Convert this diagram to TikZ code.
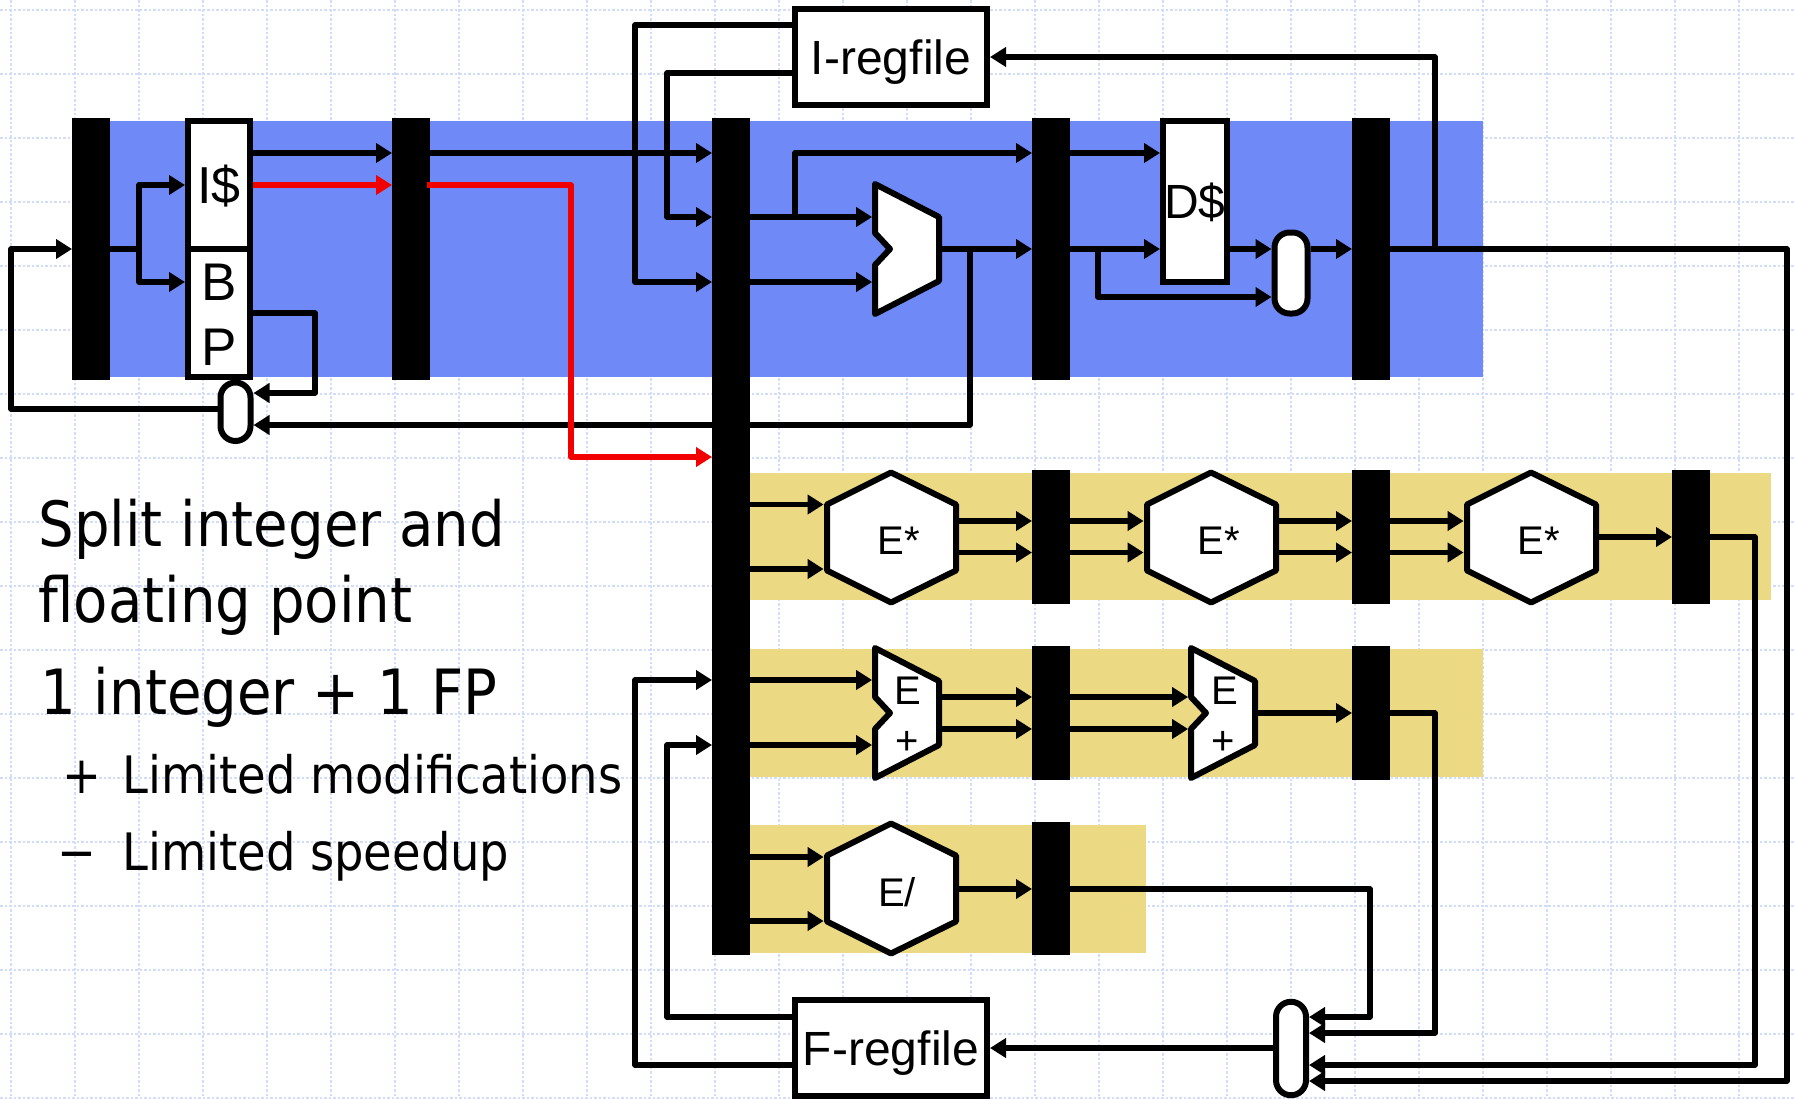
\documentclass[tikz,border=0pt]{standalone}
\usepackage{fontspec}
\setmainfont{Liberation Sans}
\newfontfamily\slideFont{DejaVu Sans Condensed}
\usepackage{xcolor}
\usetikzlibrary{arrows.meta}
\definecolor{gridBlue}{HTML}{D2DDF9}
\definecolor{bandBlue}{HTML}{6F8AF6}
\definecolor{bandYellow}{HTML}{ECD983}

\begin{document}
\begin{tikzpicture}[x=0.5pt, y=-0.5pt,
    wire/.style={line width=2.75pt, line join=round},
    flow/.style={wire, -{Triangle[length=8pt, width=9.5pt]}},
    redFlow/.style={flow, color=red!95!black},
    latch/.style={fill=black, inner sep=0pt, outer sep=0pt, minimum width=19pt},
    unitBox/.style={draw, fill=white, line width=3pt, inner sep=0pt, text depth=0pt, font=\fontsize{24}{30}\selectfont},
    unitLine/.style={draw, fill=white, line width=3pt, line join=round},
    unitText/.style={inner sep=0pt, text depth=0pt, font=\fontsize{20}{24}\selectfont},
    bigText/.style={inner sep=0pt, text depth=0pt, font=\fontsize{26.5}{30}\selectfont},
    pill/.style={draw, fill=white, line width=3pt, inner sep=0pt, rounded corners=7.5pt, minimum width=15pt},
    slideBig/.style={inner sep=0pt, anchor=base west, font=\slideFont\fontsize{31.2}{38}\selectfont},
    slideSmall/.style={inner sep=0pt, anchor=base west, font=\slideFont\fontsize{25.8}{30}\selectfont}]

\useasboundingbox (0,0) rectangle (1794,1098);

% Dotted slide grid
\foreach \gridX in {11,75,...,1794}
    \draw[gridBlue, line width=1.25pt, dash pattern=on 1.25pt off 1pt] (\gridX,0) -- (\gridX,1098);
\foreach \gridY in {10,74,...,1098}
    \draw[gridBlue, line width=1.25pt, dash pattern=on 1.25pt off 1pt] (0,\gridY) -- (1794,\gridY);

% Pipeline bands
\fill[bandBlue] (72,121) rectangle (1483,377);
\fill[bandYellow] (750,473) rectangle (1771,600);
\fill[bandYellow] (750,649) rectangle (1483,777);
\fill[bandYellow] (750,825) rectangle (1146,953);

% Latches
\node[latch, minimum height=131pt] (latchF) at (91,249) {};
\node[latch, minimum height=131pt] (latchD) at (411,249) {};
\node[latch, minimum height=418.5pt] (latchR) at (731,536.5) {};
\node[latch, minimum height=131pt] (latchX) at (1051,249) {};
\node[latch, minimum height=131pt] (latchM) at (1371,249) {};
\node[latch, minimum height=67pt] (latchMulA) at (1051,537) {};
\node[latch, minimum height=67pt] (latchMulB) at (1371,537) {};
\node[latch, minimum height=67pt] (latchMulC) at (1691,537) {};
\node[latch, minimum height=67pt] (latchAddA) at (1051,713) {};
\node[latch, minimum height=67pt] (latchAddB) at (1371,713) {};
\node[latch, minimum height=66.5pt] (latchDiv) at (1051,888.5) {};

% Boxes
\node[unitBox, minimum width=31pt, minimum height=64.25pt, font=\fontsize{26}{30}\selectfont] (icache) at (219,184.75) {I\$};
\node[unitBox, minimum width=31pt, minimum height=63.75pt] (bpred) at (219,312.75) {};
\node[bigText] (textB) at (219,282) {B};
\node[bigText] (textP) at (219,347) {P};
\node[unitBox, minimum width=32pt, minimum height=80.5pt] (dcache) at (1195,201) {D\$};
\node[unitBox, minimum width=96pt, minimum height=48pt, text depth=-2pt] (iregfile) at (891,57) {I-regfile};
\node[unitBox, minimum width=96pt, minimum height=48pt, text depth=-2pt] (fregfile) at (891,1048) {F-regfile};

% Selectors
\node[pill, minimum height=29.25pt] (pillFetch) at (235.5,411.75) {};
\node[pill, minimum height=40.5pt, minimum width=16.5pt] (pillMem) at (1291,273) {};
\node[pill, minimum height=46.75pt] (pillBack) at (1291,1048.5) {};

% Execute units
\foreach \hexName/\hexX/\hexY/\hexShift/\hexText in {hexA/891/537.5/8/{E*}, hexB/1211/537.5/8/{E*}, hexC/1531/537.5/8/{E*}, hexD/891/888.5/6/{E/}} {
    \draw[unitLine] (\hexX-64,\hexY-33) -- (\hexX,\hexY-65) -- (\hexX+65,\hexY-33) -- (\hexX+65,\hexY+33) -- (\hexX,\hexY+65) -- (\hexX-64,\hexY+33) -- cycle;
    \node[inner sep=0pt, minimum width=67pt, minimum height=65pt] (\hexName) at (\hexX,\hexY) {};
    \node[unitText] (\hexName Text) at (\hexX+\hexShift,\hexY+3) {\hexText};
}
\foreach \muxName/\muxX/\muxY in {muxAlu/907/249, muxAddA/907/713, muxAddB/1223/713} {
    \draw[unitLine] (\muxX-32,\muxY-65) -- (\muxX+32,\muxY-32) -- (\muxX+32,\muxY+32) -- (\muxX-32,\muxY+65) -- (\muxX-32,\muxY+16) -- (\muxX-17,\muxY) -- (\muxX-32,\muxY-16) -- cycle;
    \node[inner sep=0pt, minimum width=34.5pt, minimum height=65pt] (\muxName) at (\muxX,\muxY) {};
}
\node[unitText] (textAddAe) at (908,691) {E};
\node[unitText] (textAddAp) at (907,743) {+};
\node[unitText] (textAddBe) at (1225,691) {E};
\node[unitText] (textAddBp) at (1223,743) {+};

% Fetch
\draw[wire] (latchF.east |- 0,249) -- (139,249);
\draw[flow] (139,249) |- (icache.west |- 0,185);
\draw[flow] (139,249) |- (bpred.west |- 0,282);
\draw[flow] (bpred.east |- 0,313) -| (315,393) -- (pillFetch.east |- 0,393);
\draw[flow] (pillFetch.west |- 0,409) -| (11,249) -- (latchF.west |- 0,249);
\draw[flow] (icache.east |- 0,153) -- (latchD.west |- 0,153);
\draw[flow] (latchD.east |- 0,153) -- (latchR.west |- 0,153);

% Register files into the big latch
\draw[flow] (iregfile.west |- 0,25) -| (635,282) -- (latchR.west |- 0,282);
\draw[flow] (iregfile.west |- 0,73) -| (667,217) -- (latchR.west |- 0,217);
\draw[flow] (fregfile.west |- 0,1065) -| (635,680) -- (latchR.west |- 0,680);
\draw[flow] (fregfile.west |- 0,1017) -| (667,745) -- (latchR.west |- 0,745);

% Integer pipe
\draw[flow] (latchR.east |- 0,217) -- (muxAlu.west |- 0,217);
\draw[flow] (latchR.east |- 0,282) -- (muxAlu.west |- 0,282);
\draw[flow] (795,217) |- (latchX.west |- 0,153);
\draw[flow] (muxAlu.east |- 0,249) -- (latchX.west |- 0,249);
\draw[flow] (970,249) |- (pillFetch.east |- 0,425);
\draw[flow] (latchX.east |- 0,153) -- (dcache.west |- 0,153);
\draw[flow] (latchX.east |- 0,249) -- (dcache.west |- 0,249);
\draw[flow] (1098,249) |- (pillMem.west |- 0,297);
\draw[flow] (dcache.east |- 0,249) -- (pillMem.west |- 0,249);
\draw[flow] (pillMem.east |- 0,249) -- (latchM.west |- 0,249);
\draw[flow] (latchM.east |- 0,249) -| (1787,1081) -- (pillBack.east |- 0,1081);
\draw[flow] (1435,249) |- (iregfile.east |- 0,57);

% Multiply pipe
\foreach \rowY in {504.5,569}
    \draw[flow] (latchR.east |- 0,\rowY) -- (hexA.west |- 0,\rowY);
\foreach \rowY in {521,552.5} {
    \draw[flow] (hexA.east |- 0,\rowY) -- (latchMulA.west |- 0,\rowY);
    \draw[flow] (latchMulA.east |- 0,\rowY) -- (hexB.west |- 0,\rowY);
    \draw[flow] (hexB.east |- 0,\rowY) -- (latchMulB.west |- 0,\rowY);
    \draw[flow] (latchMulB.east |- 0,\rowY) -- (hexC.west |- 0,\rowY);
}
\draw[flow] (hexC.east |- 0,537) -- (latchMulC.west |- 0,537);
\draw[flow] (latchMulC.east |- 0,537) -| (1755,1065) -- (pillBack.east |- 0,1065);

% Add pipe
\foreach \rowY in {680,745}
    \draw[flow] (latchR.east |- 0,\rowY) -- (muxAddA.west |- 0,\rowY);
\foreach \rowY in {697,729} {
    \draw[flow] (muxAddA.east |- 0,\rowY) -- (latchAddA.west |- 0,\rowY);
    \draw[flow] (latchAddA.east |- 0,\rowY) -- (muxAddB.west |- 0,\rowY);
}
\draw[flow] (muxAddB.east |- 0,713) -- (latchAddB.west |- 0,713);
\draw[flow] (latchAddB.east |- 0,713) -| (1435,1033) -- (pillBack.east |- 0,1033);

% Divide pipe
\foreach \rowY in {857,921}
    \draw[flow] (latchR.east |- 0,\rowY) -- (hexD.west |- 0,\rowY);
\draw[flow] (hexD.east |- 0,889) -- (latchDiv.west |- 0,889);
\draw[flow] (latchDiv.east |- 0,889) -| (1370,1017) -- (pillBack.east |- 0,1017);
\draw[flow] (pillBack.west |- 0,1048) -- (fregfile.east |- 0,1048);

% Red path
\draw[redFlow] (icache.east |- 0,185) -- (latchD.west |- 0,185);
\draw[redFlow] (427,185) -| (571,457) -- (latchR.west |- 0,457);

% Slide text
\node[slideBig] (textSplit) at (38,546) {Split integer and};
\node[slideBig] (textFloat) at (38,622) {floating point};
\node[slideBig] (textOne) at (40,714.5) {1 integer + 1 FP};
\node[slideSmall] (textPlus) at (62,793) {+};
\node[slideSmall] (textLimMod) at (122,793) {Limited modifications};
\node[slideSmall] (textMinus) at (57,870) {−};
\node[slideSmall] (textLimSpeed) at (122,870) {Limited speedup};

\end{tikzpicture}
\end{document}
